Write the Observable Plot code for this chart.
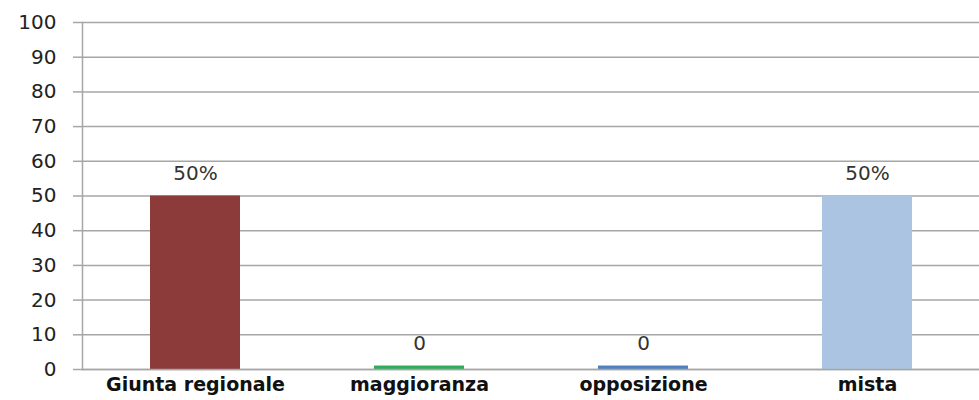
<!DOCTYPE html>
<html>
<head>
<meta charset="utf-8">
<script src="https://cdn.jsdelivr.net/npm/d3@7"></script>
<script src="https://cdn.jsdelivr.net/npm/@observablehq/plot@0.6"></script>
<style>
  body { margin: 0; background: #fff; overflow: hidden; }
  svg { display: block; }
</style>
</head>
<body>
<div id="chart"></div>
<script>
const categories = ["Giunta regionale", "maggioranza", "opposizione", "mista"];
const values = [50, 1, 1, 50];
const valueLabels = ["50%", "0", "0", "50%"];
const colors = ["#8C3A3A", "#2EAE5C", "#4F81BD", "#AAC4E2"];
const yTicks = [0, 10, 20, 30, 40, 50, 60, 70, 80, 90, 100];

const data = categories.map((c, i) => ({cat: c, value: values[i], label: valueLabels[i], color: colors[i]}));

const chart = Plot.plot({
  width: 979,
  height: 400,
  marginLeft: 82,
  marginRight: 0,
  marginTop: 22,
  marginBottom: 31,
  style: {fontFamily: "'DejaVu Sans', Verdana, sans-serif", background: "#fff"},
  x: {domain: categories, paddingInner: 0.6, paddingOuter: 0.3, label: null},
  y: {domain: [0, 100], label: null},
  marks: [
    Plot.gridY(yTicks, {stroke: "#A6A6A6", strokeOpacity: 1, strokeWidth: 1.5}),
    Plot.barY(data, {x: "cat", y: "value", fill: "color"}),
    Plot.ruleY([0], {stroke: "#A6A6A6", strokeWidth: 1.5}),
    Plot.frame({anchor: "left", stroke: "#A6A6A6", strokeWidth: 1.5}),
    Plot.axisY({ticks: yTicks, tickSize: 9, tickPadding: 17, fontSize: 20, fill: "#222", stroke: "#A6A6A6", strokeWidth: 1.5, label: null}),
    Plot.axisX({tickSize: 0, tickPadding: 8, fontSize: 19, fontWeight: "bold", fill: "#111", label: null}),
    Plot.text(data, {x: "cat", y: "value", text: "label", dy: -22, fontSize: 20, fill: "#333"})
  ]
});
document.getElementById("chart").appendChild(chart);
</script>
</body>
</html>
